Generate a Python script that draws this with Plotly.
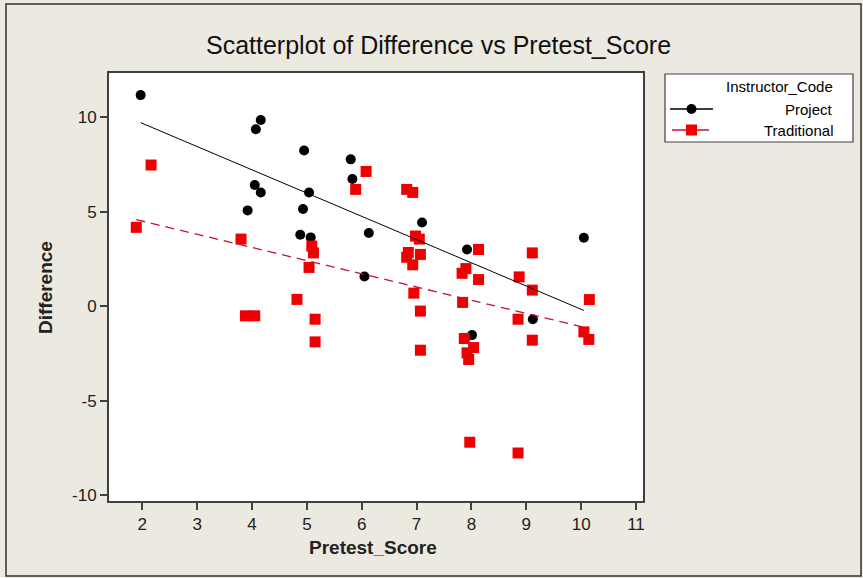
import numpy as np
import plotly.graph_objects as go

# ---- data ----
project_x = [1.97, 4.16, 4.07, 4.05, 4.16, 3.92, 4.95, 5.80, 5.83, 5.04,
             4.93, 4.88, 5.07, 6.13, 6.05, 7.10, 7.92, 10.05, 9.12, 8.01]
project_y = [11.18, 9.86, 9.37, 6.42, 6.03, 5.08, 8.25, 7.78, 6.74, 6.03,
             5.15, 3.79, 3.65, 3.88, 1.58, 4.44, 3.01, 3.63, -0.68, -1.52]

trad_x = [2.16, 1.89, 3.80, 3.88, 4.05, 4.82, 5.09, 5.12, 5.04, 5.15,
          5.15, 5.89, 6.08, 6.82, 6.93, 6.98, 7.05, 6.85, 6.82, 7.07,
          6.93, 6.95, 7.07, 7.07, 7.83, 7.90, 7.84, 7.87, 8.04, 7.92,
          7.95, 7.97, 8.13, 8.13, 8.87, 8.85, 8.85, 9.11, 9.11, 9.11,
          10.15, 10.05, 10.14]
trad_y = [7.48, 4.18, 3.56, -0.50, -0.50, 0.37, 3.19, 2.83, 2.06, -0.68,
          -1.88, 6.19, 7.14, 6.19, 6.03, 3.72, 3.56, 2.85, 2.60, 2.75,
          2.20, 0.70, -0.25, -2.32, 1.75, 2.00, 0.21, -1.70, -2.18, -2.46,
          -2.81, -7.19, 3.01, 1.42, 1.56, -0.68, -7.76, 2.83, 0.86, -1.79,
          0.36, -1.35, -1.75]

x_ticks = [2, 3, 4, 5, 6, 7, 8, 9, 10, 11]
y_ticks = [-10, -5, 0, 5, 10]

title_text = "Scatterplot of Difference vs Pretest_Score"
x_title = "Pretest_Score"
y_title = "Difference"
legend_title = "Instructor_Code"
names = ["Project", "Traditional"]

# ---- layout geometry (pixels) ----
W, H = 863, 578
ML, MR, MT, MB = 109, 220, 73, 77
PW, PH = W - ML - MR, H - MT - MB
BG = "#ECE9E0"
FONT = "Liberation Sans, Arial, sans-serif"


def px(x):
    return (x - ML) / PW


def py(y):
    return (H - MB - y) / PH


def fit_line(xs, ys):
    xs = np.asarray(xs)
    ys = np.asarray(ys)
    b, a = np.polyfit(xs, ys, 1)
    lx = np.array([xs.min(), xs.max()])
    return lx, a + b * lx


fig = go.Figure()

fig.add_trace(go.Scatter(x=project_x, y=project_y, mode="markers",
                         marker=dict(symbol="circle", size=10, color="black"),
                         showlegend=False))
fig.add_trace(go.Scatter(x=trad_x, y=trad_y, mode="markers",
                         marker=dict(symbol="square", size=11, color="#ee0000"),
                         showlegend=False))

lx, ly = fit_line(project_x, project_y)
fig.add_trace(go.Scatter(x=lx, y=ly, mode="lines",
                         line=dict(color="black", width=1), showlegend=False))
lx, ly = fit_line(trad_x, trad_y)
fig.add_trace(go.Scatter(x=lx, y=ly, mode="lines",
                         line=dict(color="#c8102e", width=1.3, dash="9px,6px"),
                         showlegend=False))

shapes = []
annotations = []

# outer border of the graph window
shapes.append(dict(type="rect", xref="paper", yref="paper",
                   x0=px(6), x1=px(861), y0=py(576), y1=py(4),
                   line=dict(color="#303030", width=1.5), fillcolor="rgba(0,0,0,0)",
                   layer="below"))

# legend box
shapes.append(dict(type="rect", xref="paper", yref="paper",
                   x0=px(665), x1=px(853), y0=py(142), y1=py(74),
                   line=dict(color="#404040", width=1.2), fillcolor="white"))
# legend lines and symbols
shapes.append(dict(type="line", xref="paper", yref="paper",
                   x0=px(670), x1=px(713), y0=py(109), y1=py(109),
                   line=dict(color="black", width=1.5)))
shapes.append(dict(type="circle", xref="paper", yref="paper",
                   xsizemode="pixel", ysizemode="pixel",
                   xanchor=px(691.5), yanchor=py(109),
                   x0=-5, x1=5, y0=-5, y1=5,
                   fillcolor="black", line=dict(color="black", width=0)))
shapes.append(dict(type="line", xref="paper", yref="paper",
                   x0=px(672), x1=px(709), y0=py(130), y1=py(130),
                   line=dict(color="#c8102e", width=1.5)))
shapes.append(dict(type="rect", xref="paper", yref="paper",
                   xsizemode="pixel", ysizemode="pixel",
                   xanchor=px(691.5), yanchor=py(130),
                   x0=-5.5, x1=5.5, y0=-5.5, y1=5.5,
                   fillcolor="#ee0000", line=dict(color="#ee0000", width=0)))

annotations.append(dict(text=legend_title, xref="paper", yref="paper",
                        x=px(835), y=py(87), xanchor="right", yanchor="middle",
                        showarrow=False, font=dict(family=FONT, size=15, color="black")))
annotations.append(dict(text=names[0], xref="paper", yref="paper",
                        x=px(835), y=py(109), xanchor="right", yanchor="middle",
                        showarrow=False, font=dict(family=FONT, size=15, color="black")))
annotations.append(dict(text=names[1], xref="paper", yref="paper",
                        x=px(835), y=py(130), xanchor="right", yanchor="middle",
                        showarrow=False, font=dict(family=FONT, size=15, color="black")))

# title and axis titles
annotations.append(dict(text=title_text, xref="paper", yref="paper",
                        x=px(438), y=py(45), xanchor="center", yanchor="middle",
                        showarrow=False, font=dict(family=FONT, size=25, color="#111111")))
annotations.append(dict(text="<b>" + x_title + "</b>", xref="paper", yref="paper",
                        x=px(373), y=py(547), xanchor="center", yanchor="middle",
                        showarrow=False, font=dict(family=FONT, size=19, color="#222222")))
annotations.append(dict(text="<b>" + y_title + "</b>", xref="paper", yref="paper",
                        x=px(45), y=py(288), xanchor="center", yanchor="middle",
                        textangle=-90,
                        showarrow=False, font=dict(family=FONT, size=19, color="#222222")))

axis_common = dict(showgrid=False, zeroline=False, showline=True, mirror=True,
                   linecolor="#404040", linewidth=2, ticks="outside", ticklen=7,
                   tickwidth=1.5, tickcolor="#404040",
                   tickfont=dict(family=FONT, size=17, color="#222222"))

fig.update_layout(
    width=W, height=H,
    margin=dict(l=ML, r=MR, t=MT, b=MB, pad=0),
    paper_bgcolor=BG, plot_bgcolor="white",
    xaxis=dict(range=[1.393, 11.128], tickvals=x_ticks,
               ticktext=[str(v) for v in x_ticks], **axis_common),
    yaxis=dict(range=[-10.30, 12.35], tickvals=y_ticks,
               ticktext=[str(v) for v in y_ticks], **axis_common),
    shapes=shapes, annotations=annotations,
    showlegend=False,
)

fig.write_html("out.html")
